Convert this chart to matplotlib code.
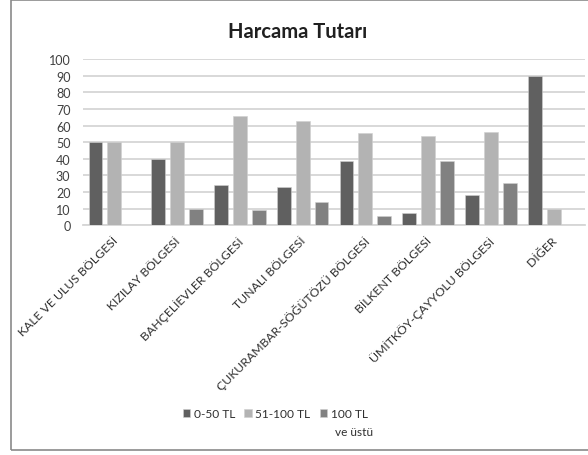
import numpy as np
import matplotlib
matplotlib.use("Agg")
import matplotlib.pyplot as plt
from matplotlib.patches import Rectangle

plt.rcParams['font.family'] = ['Lato', 'DejaVu Sans']

regions = [
    "KALE VE ULUS BÖLGESİ",
    "KIZILAY BÖLGESİ",
    "BAHÇELİEVLER BÖLGESİ",
    "TUNALI BÖLGESİ",
    "ÇUKURAMBAR-SÖĞÜTÖZÜ BÖLGESİ",
    "BİLKENT BÖLGESİ",
    "ÜMİTKÖY-ÇAYYOLU BÖLGESİ",
    "DİĞER",
]
low = [50, 40, 24.1, 22.7, 38.5, 7.5, 18, 90]
mid = [50, 50, 65.5, 62.8, 55.5, 53.8, 56.2, 10]
high = [0, 10, 9.4, 14.1, 5.3, 38.5, 25.6, 0]
series_labels = ["0-50 TL", "51-100 TL", "100 TL"]
series_colors = ["#606060", "#b3b3b3", "#818181"]
yticks = list(range(0, 101, 10))

fig = plt.figure(figsize=(5.88, 4.56), dpi=100)
ax = fig.add_axes([0.141, 0.504, 0.854, 0.364])

x = np.arange(len(regions))
width = 0.22
step = 0.30
bars = []
for i, (vals, col, lab) in enumerate(zip([low, mid, high], series_colors, series_labels)):
    b = ax.bar(x + (i - 1) * step, vals, width, color=col, label=lab,
               edgecolor="#d0d0d0", linewidth=0.4, zorder=3)
    bars.append(b)

ax.set_xlim(-0.5, len(regions) - 0.5)
ax.set_ylim(0, 100)
ax.set_yticks(yticks)
ax.yaxis.grid(True, color="#d6d6d6", linewidth=1.3, zorder=0)
ax.set_axisbelow(True)
for s in ["top", "right", "left"]:
    ax.spines[s].set_visible(False)
ax.spines["bottom"].set_color("#d6d6d6")
ax.spines["bottom"].set_linewidth(1.3)
ax.tick_params(axis="y", length=0, pad=9, labelsize=9, labelcolor="#404040")
ax.tick_params(axis="x", length=0, pad=5)
ax.set_xticks(x)
ax.set_xticklabels([r + " " for r in regions], rotation=45, ha="right",
                   rotation_mode="anchor", fontsize=8.8, color="#303030")

fig.text(0.507, 0.93, "Harcama Tutarı", ha="center", va="center",
         fontsize=14.5, fontweight="bold", color="#202020")

leg = fig.legend(handles=bars, labels=series_labels, loc="center",
                 bbox_to_anchor=(0.468, 0.09), ncol=3, frameon=False,
                 fontsize=8.6, handlelength=0.6, handleheight=0.6,
                 handletextpad=0.3, columnspacing=0.8, labelcolor="#303030")
# the last legend entry wraps onto a second line
fig.canvas.draw()
ax.annotate("ve üstü", xy=(0, 0), xycoords=leg.get_texts()[2],
            xytext=(3.5, -5), textcoords="offset points", ha="left", va="top",
            fontsize=8.6, color="#303030", annotation_clip=False)

# outer chart border
fig.patches.append(Rectangle((0.019, 0.011), 1.0, 0.987, transform=fig.transFigure,
                             fill=False, edgecolor="#8a8a8a", linewidth=1.2))

fig.savefig("out.png", dpi=100)
